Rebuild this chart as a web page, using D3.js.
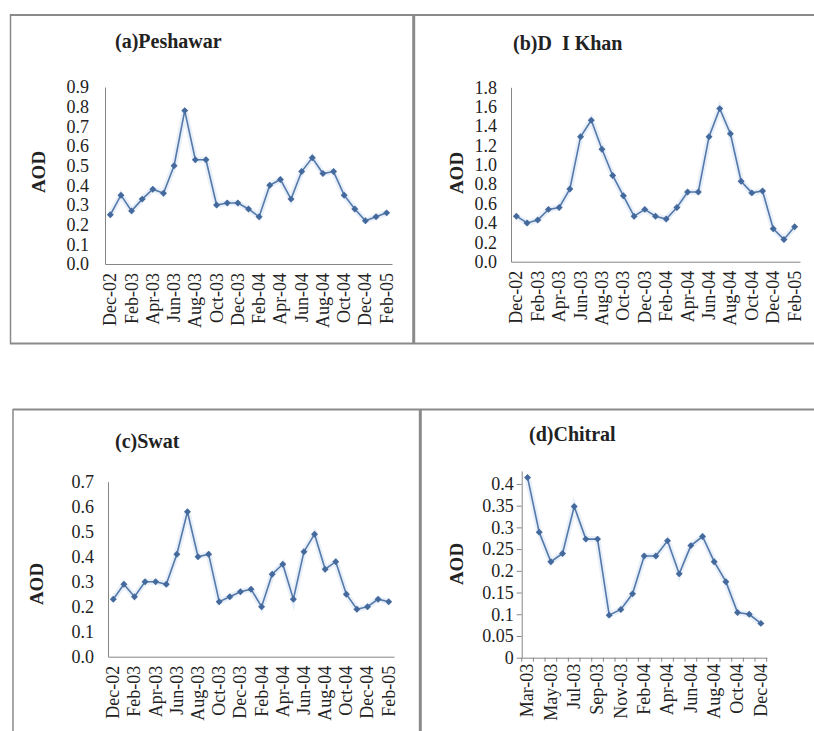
<!DOCTYPE html>
<html>
<head>
<meta charset="utf-8">
<script src="https://cdn.jsdelivr.net/npm/d3@7"></script>
<style>
  body { margin: 0; background: #fff; }
  svg { display: block; }
  text { font-family: "Liberation Serif", "Times New Roman", serif; fill: #222; }
</style>
</head>
<body>
<div id="chart"></div>
<script>
// monthly categories (27 months for a-c, 21 for Chitral)
const months = ["Dec-02","Jan-03","Feb-03","Mar-03","Apr-03","May-03","Jun-03","Jul-03","Aug-03",
  "Sep-03","Oct-03","Nov-03","Dec-03","Jan-04","Feb-04","Mar-04","Apr-04","May-04","Jun-04",
  "Jul-04","Aug-04","Sep-04","Oct-04","Nov-04","Dec-04","Jan-05","Feb-05"];
const chitralMonths = ["Mar-03","Apr-03","May-03","Jun-03","Jul-03","Aug-03","Sep-03","Oct-03",
  "Nov-03","Jan-04","Feb-04","Mar-04","Apr-04","May-04","Jun-04","Jul-04","Aug-04","Sep-04",
  "Oct-04","Nov-04","Dec-04"];

// AOD values
const peshawar = [0.25,0.35,0.27,0.33,0.38,0.36,0.50,0.78,0.53,0.53,0.30,0.31,0.31,0.28,
  0.24,0.40,0.43,0.33,0.47,0.54,0.46,0.47,0.35,0.28,0.22,0.24,0.26];
const diKhan = [0.47,0.40,0.43,0.54,0.56,0.75,1.29,1.46,1.16,0.89,0.68,0.47,0.54,0.47,
  0.44,0.56,0.72,0.72,1.29,1.58,1.32,0.83,0.71,0.73,0.34,0.23,0.36];
const swat = [0.23,0.29,0.24,0.30,0.30,0.29,0.41,0.58,0.40,0.41,0.22,0.24,0.26,0.27,
  0.20,0.33,0.37,0.23,0.42,0.49,0.35,0.38,0.25,0.19,0.20,0.23,0.22];
const chitral = [0.415,0.289,0.221,0.240,0.348,0.273,0.273,0.098,0.111,0.147,0.234,0.234,
  0.269,0.193,0.258,0.279,0.221,0.175,0.104,0.100,0.079];

// y tick values
const ticksA = d3.range(0, 0.91, 0.1);
const ticksB = d3.range(0, 1.81, 0.2);
const ticksC = d3.range(0, 0.71, 0.1);
const ticksD = d3.range(0, 0.401, 0.05);

const W = 814, H = 731;
const serif = "Liberation Serif, Times New Roman, serif";
const svg = d3.select("#chart").append("svg").attr("width", W).attr("height", H);

// panel frames
const frame = svg.append("g").attr("stroke", "#8a8a8a").attr("fill", "none");
frame.append("line").attr("x1", 10).attr("x2", W).attr("y1", 15).attr("y2", 15).attr("stroke-width", 2);
frame.append("line").attr("x1", 10.5).attr("x2", 10.5).attr("y1", 14).attr("y2", 344).attr("stroke-width", 1.5);
frame.append("line").attr("x1", 10).attr("x2", W).attr("y1", 343.5).attr("y2", 343.5).attr("stroke-width", 2);
frame.append("line").attr("x1", 413.7).attr("x2", 413.7).attr("y1", 14).attr("y2", 344).attr("stroke-width", 3);
frame.append("line").attr("x1", 13).attr("x2", W).attr("y1", 409.5).attr("y2", 409.5).attr("stroke-width", 2);
frame.append("line").attr("x1", 13).attr("x2", 13).attr("y1", 409).attr("y2", H).attr("stroke-width", 1.5);
frame.append("line").attr("x1", 420.3).attr("x2", 420.3).attr("y1", 409).attr("y2", H).attr("stroke-width", 3);

const fmt1 = d3.format(".1f");
const fmtG = v => String(+v.toFixed(2));

const panels = [
  {title: "(a)Peshawar", cats: months, vals: peshawar, ticks: ticksA, fmt: fmt1, yMax: 0.9,
   x0: 105, x1: 392, y0: 264, y1: 87, tx: 115, ty: 48, ax: 38, ay: 172, pad: 16, xgap: 9},
  {title: "(b)D  I Khan", cats: months, vals: diKhan, ticks: ticksB, fmt: fmt1, yMax: 1.8,
   x0: 511, x1: 800, y0: 261.7, y1: 87.3, tx: 513, ty: 50, ax: 456, ay: 173, pad: 14, xgap: 9},
  {title: "(c)Swat", cats: months, vals: swat, ticks: ticksC, fmt: fmt1, yMax: 0.7,
   x0: 108, x1: 394, y0: 656.7, y1: 481.7, tx: 115, ty: 448, ax: 36, ay: 584, pad: 14, xgap: 9},
  {title: "(d)Chitral", cats: chitralMonths, vals: chitral, ticks: ticksD, fmt: fmtG, yMax: 0.43,
   x0: 521.7, x1: 766.7, y0: 657.7, y1: 470.9, tx: 529, ty: 441, ax: 456, ay: 564, pad: 3, xgap: 6, marks: true}
];

panels.forEach(p => {
  const g = svg.append("g");
  const x = d3.scaleBand().domain(p.cats).range([p.x0, p.x1]).padding(0);
  const y = d3.scaleLinear().domain([0, p.yMax]).range([p.y0, p.y1]);
  const cx = d => x(d) + x.bandwidth() / 2;

  // y axis
  const ya = g.append("g").attr("transform", `translate(${p.x0},0)`)
    .call(d3.axisLeft(y).tickValues(p.ticks).tickFormat(p.fmt)
      .tickSize(p.marks ? 5 : 0).tickSizeOuter(0).tickPadding(p.pad))
    .attr("font-family", serif).attr("font-size", 18);
  ya.select(".domain").attr("stroke", "#868686");
  ya.selectAll(".tick line").attr("stroke", "#868686");
  ya.selectAll("text").attr("fill", "#222");

  // x axis
  const xa = g.append("g").attr("transform", `translate(0,${p.y0})`)
    .call(d3.axisBottom(x).tickValues(p.cats.filter((d, i) => i % 2 === 0))
      .tickSize(0).tickSizeOuter(0))
    .attr("font-family", serif).attr("font-size", 18);
  xa.select(".domain").attr("stroke", "#868686");
  xa.selectAll("text").attr("fill", "#222")
    .attr("transform", "rotate(-90)").attr("x", -p.xgap).attr("y", 0).attr("dy", "0.33em")
    .style("text-anchor", "end");

  if (p.marks) {
    const bounds = p.cats.map(d => x(d)).concat([p.x1]);
    g.append("g").selectAll("line").data(bounds).join("line")
      .attr("x1", d => d).attr("x2", d => d).attr("y1", p.y0).attr("y2", p.y0 + 4)
      .attr("stroke", "#868686");
  }

  const line = d3.line().x((d, i) => cx(p.cats[i])).y(d => y(d));
  g.append("path").datum(p.vals).attr("d", line)
    .attr("fill", "none").attr("stroke", "#dfe9f6").attr("stroke-width", 6).attr("opacity", 0.7);
  g.append("path").datum(p.vals).attr("d", line)
    .attr("fill", "none").attr("stroke", "#5379aa").attr("stroke-width", 1.6);

  g.append("g").selectAll("path").data(p.vals).join("path")
    .attr("d", d3.symbol(d3.symbolSquare, 24))
    .attr("transform", (d, i) => `translate(${cx(p.cats[i])},${y(d)}) rotate(45)`)
    .attr("fill", "#44699c");

  g.append("text").attr("x", p.tx).attr("y", p.ty).text(p.title)
    .attr("font-size", 20).attr("font-weight", "bold").attr("fill", "#111")
    .style("white-space", "pre");

  g.append("text").attr("transform", `translate(${p.ax},${p.ay}) rotate(-90)`)
    .attr("text-anchor", "middle").attr("dy", "0.35em").text("AOD")
    .attr("font-size", 19).attr("font-weight", "bold").attr("fill", "#111");
});
</script>
</body>
</html>
